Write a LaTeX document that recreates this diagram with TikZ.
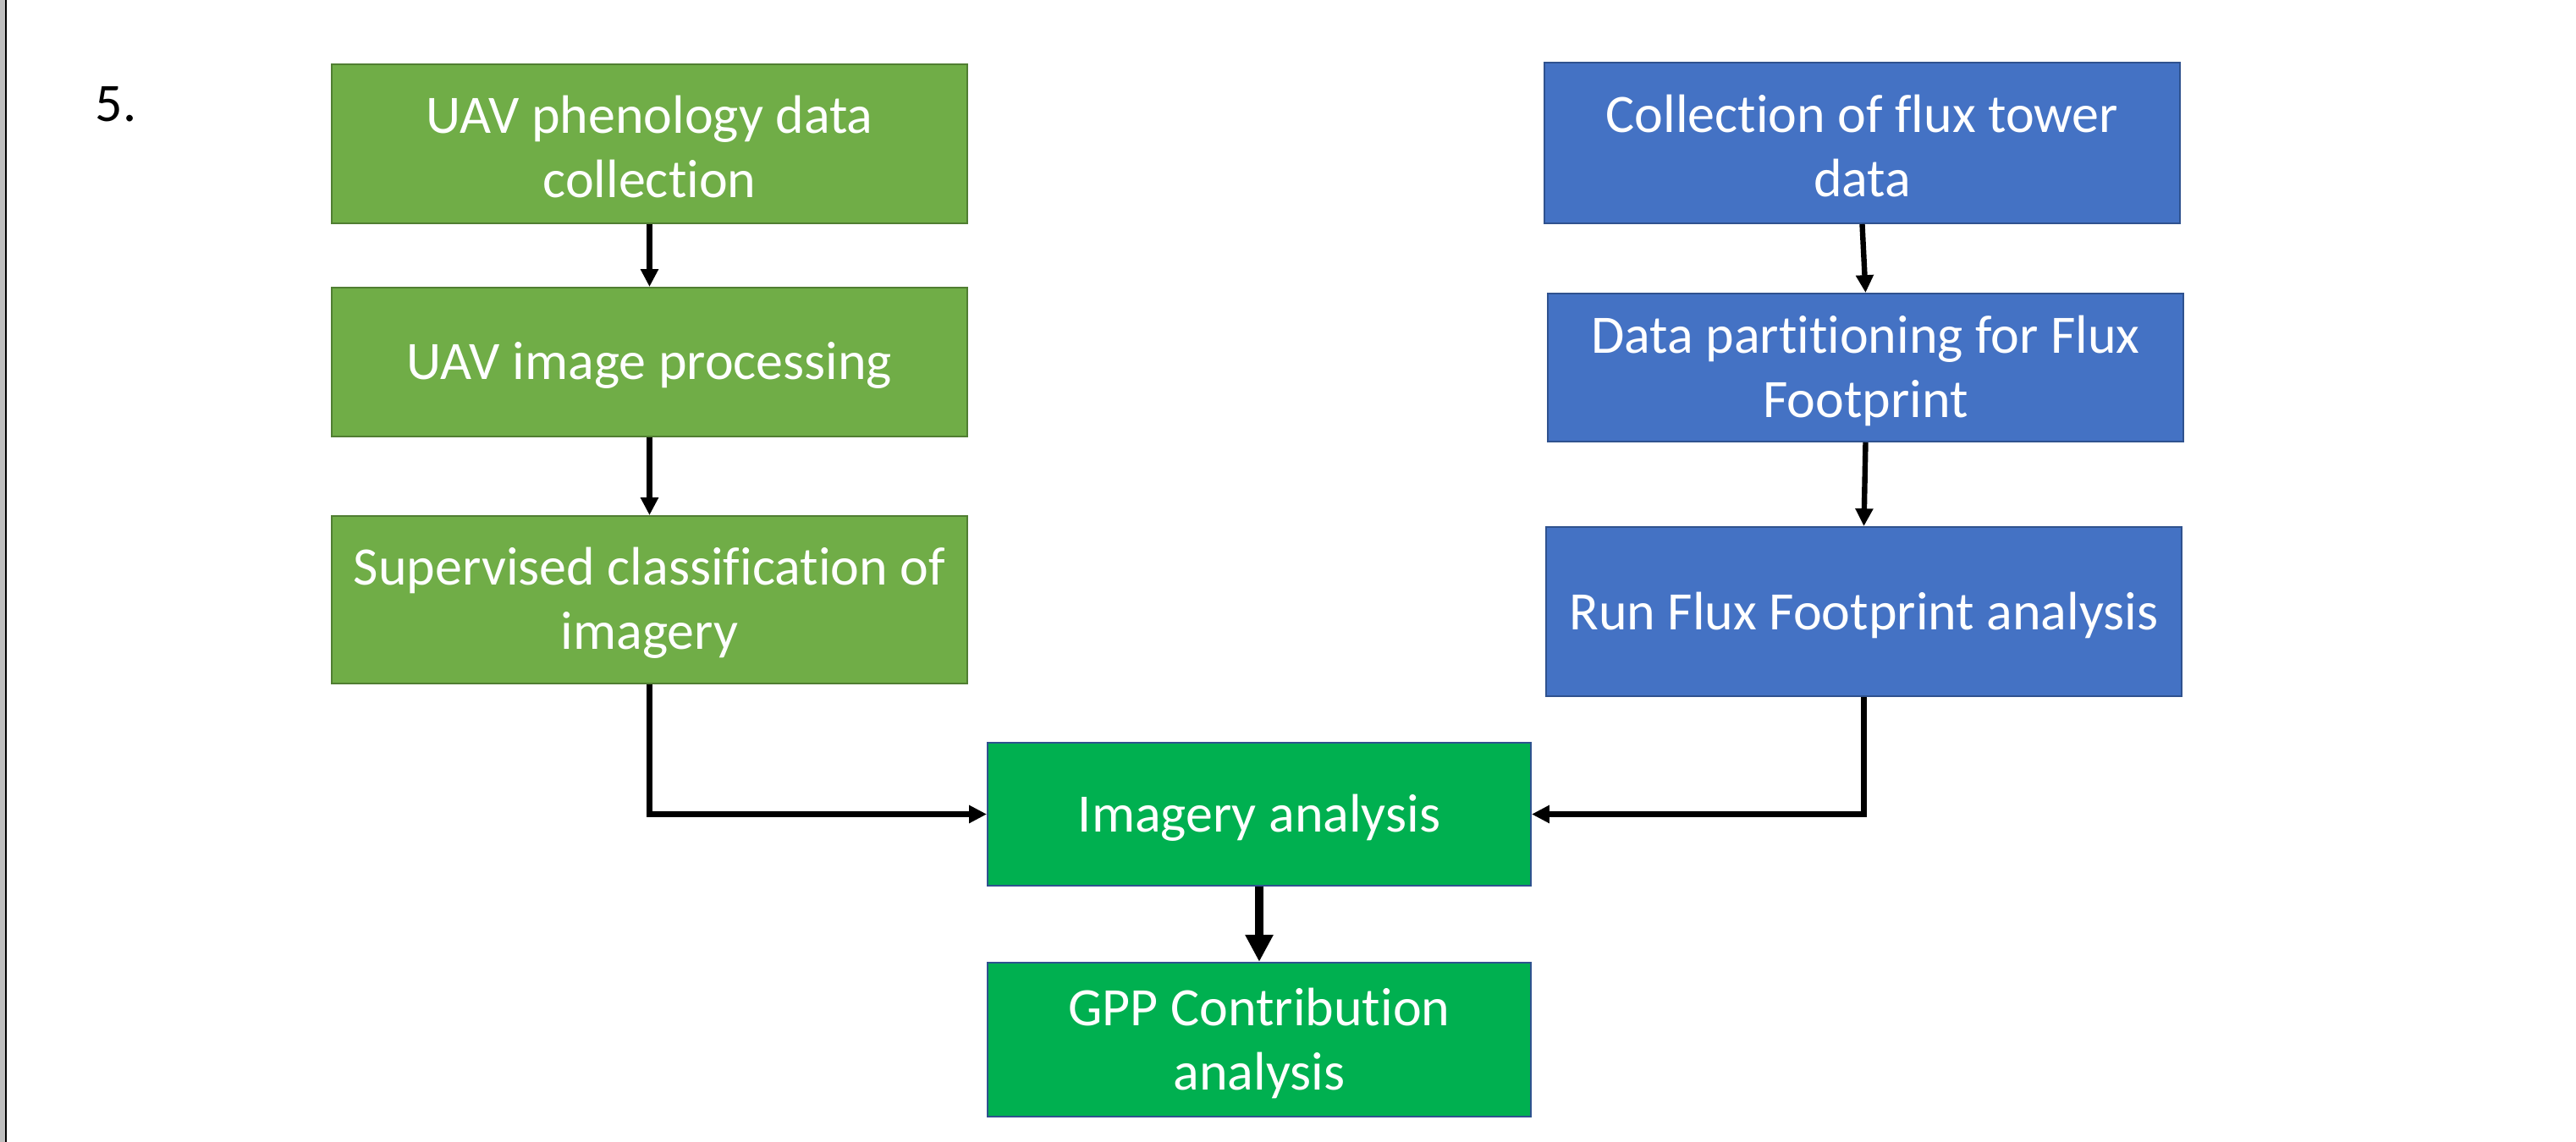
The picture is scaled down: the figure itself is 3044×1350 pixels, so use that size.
\documentclass[tikz,border=0pt]{standalone}
\usepackage{fontspec}
\setmainfont{Carlito}[Ligatures={NoCommon,NoContextual}]
\usetikzlibrary{arrows.meta}
\definecolor{leafgreen}{HTML}{70AD47}
\definecolor{leafedge}{HTML}{507E32}
\definecolor{towerblue}{HTML}{4472C4}
\definecolor{toweredge}{HTML}{2F528F}
\definecolor{brightgreen}{HTML}{00B050}
\definecolor{framegray}{HTML}{BFBFBF}
\tikzset{
  procbox/.style={rectangle, line width=0.5pt, inner sep=0pt},
  uavbox/.style={procbox, fill=leafgreen, draw=leafedge},
  fluxbox/.style={procbox, fill=towerblue, draw=toweredge},
  resultbox/.style={procbox, fill=brightgreen, draw=toweredge},
  boxtext/.style={text=white, align=center, inner sep=0pt, yshift=-1pt,
    font=\fontsize{16pt}{19pt}\selectfont},
  flowarrow/.style={draw=black, line width=1.6pt, -{Triangle[length=5.2pt,width=5pt]}},
  heavyarrow/.style={draw=black, line width=2.5pt, -{Triangle[length=8pt,width=7.8pt]}}
}
\begin{document}
\begin{tikzpicture}[x=0.25pt, y=-0.25pt]
  \useasboundingbox (0,0) rectangle (3044,1350);
  % page frame on the left
  \fill[framegray] (0,0) rectangle (6,1350);
  \fill[black] (6,0) rectangle (8,1350);

  \node[anchor=base west, inner sep=0pt, font=\fontsize{16pt}{19pt}\selectfont] (num) at (112,143) {5.};

  % UAV branch
  \node[uavbox, minimum width=187.75pt, minimum height=47pt,
    label={[boxtext, name=At]center:UAV phenology data\\collection}] (A) at (767.5,170) {};
  \node[uavbox, minimum width=187.75pt, minimum height=44pt,
    label={[boxtext, name=Bt]center:UAV image processing}] (B) at (767.5,428) {};
  \node[uavbox, minimum width=187.75pt, minimum height=49.5pt,
    label={[boxtext, name=Ct]center:Supervised classification of\\imagery}] (C) at (767.5,709) {};

  % flux tower branch
  \node[fluxbox, minimum width=187.75pt, minimum height=47.5pt,
    label={[boxtext, name=Dt]center:Collection of flux tower\\data}] (D) at (2200.5,169) {};
  \node[fluxbox, minimum width=187.75pt, minimum height=43.75pt,
    label={[boxtext, name=Et]center:Data partitioning for Flux\\Footprint}] (E) at (2204.5,434.5) {};
  \node[fluxbox, minimum width=187.75pt, minimum height=50pt,
    label={[boxtext, name=Ft]center:Run Flux Footprint analysis}] (F) at (2202.5,723) {};

  % combined analysis
  \node[resultbox, minimum width=160.5pt, minimum height=42.25pt,
    label={[boxtext, name=Gt]center:Imagery analysis}] (G) at (1488,962.5) {};
  \node[resultbox, minimum width=160.5pt, minimum height=45.5pt,
    label={[boxtext, name=Ht]center:GPP Contribution\\analysis}] (H) at (1488,1229) {};

  % connectors
  \draw[flowarrow] (A.south) -- (B.north);
  \draw[flowarrow] (B.south) -- (C.north);
  \draw[flowarrow] (D.south) -- (E.north);
  \draw[flowarrow] (E.south) -- (F.north);
  \draw[flowarrow] (C.south) |- (G.west);
  \draw[flowarrow] (F.south) |- (G.east);
  \draw[heavyarrow] (G.south) -- (H.north);
\end{tikzpicture}
\end{document}
